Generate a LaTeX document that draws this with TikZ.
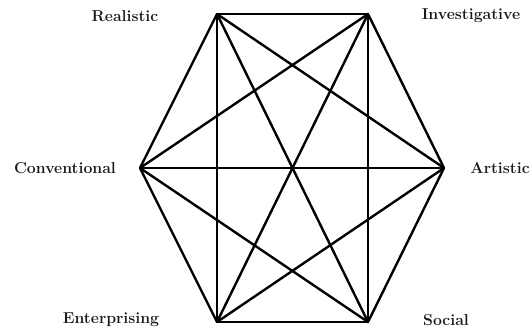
\documentclass[tikz,border=0pt]{standalone}
\usepackage{tikz}
\usetikzlibrary{positioning}
\definecolor{ink}{HTML}{000000}
\definecolor{txt}{HTML}{1A1A1A}
\tikzset{
  edge/.style={draw=ink, line width=2.4pt, line cap=round},
  lbl/.style={font=\fontsize{15.8}{18}\selectfont\bfseries, text=txt,
              inner sep=0pt, anchor=center},
}

\begin{document}
\begin{tikzpicture}[x=1pt, y=-1pt]
  \useasboundingbox (0,0) rectangle (529,331);
  % --- vertices of the hexagon ---
  \coordinate (r) at (217,14);
  \coordinate (i) at (368,14);
  \coordinate (a) at (444,168);
  \coordinate (s) at (368,322);
  \coordinate (e) at (217,322);
  \coordinate (c) at (140,168);

  % --- labels ---
  \node[lbl] (rl) at (125,16)  {Realistic};
  \node[lbl] (il) at (471,16)  {Investigative};
  \node[lbl] (al) at (500,168) {Artistic};
  \node[lbl] (sl) at (446,320) {Social};
  \node[lbl] (el) at (111,320) {Enterprising};
  \node[lbl] (cl) at (65,168)  {Conventional};

  % --- every pair joined ---
  \foreach \u/\v in {r/i,i/a,a/s,s/e,e/c,c/r,
                     r/a,r/s,r/e,i/s,i/e,i/c,a/e,a/c,s/c}
    \draw[edge] (\u) -- (\v);
\end{tikzpicture}
\end{document}
